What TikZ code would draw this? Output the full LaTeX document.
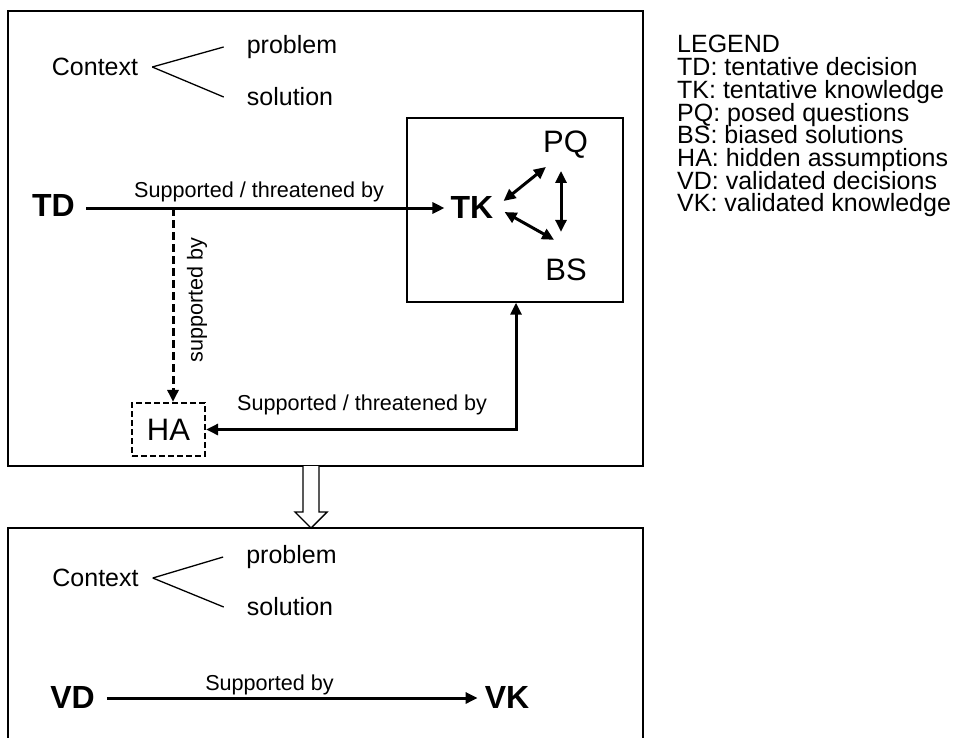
\documentclass[tikz,border=0pt]{standalone}
\usepackage{fontspec}
\setmainfont{Liberation Sans}
\usetikzlibrary{arrows.meta}
\begin{document}
\begin{tikzpicture}[x=1pt,y=-1pt,
  tip/.tip={Triangle[length=12pt,width=11pt]},
  frame/.style={draw, line width=1.4pt},
  thinline/.style={line width=1.3pt},
  conn/.style={line width=3pt, -tip},
  twoway/.style={line width=3pt, tip-tip},
  dashconn/.style={line width=3pt, dash pattern=on 8pt off 4pt, -tip},
  big/.style={font=\fontsize{32}{36}\selectfont\bfseries, inner sep=0pt},
  mid/.style={font=\fontsize{31}{36}\selectfont, inner sep=0pt},
  ctxt/.style={font=\fontsize{25}{30}\selectfont, inner sep=0pt},
  lbl/.style={font=\fontsize{21.6}{26}\selectfont, inner sep=0pt},
  leg/.style={font=\fontsize{25}{28}\selectfont, inner sep=0pt, anchor=base west}]

\useasboundingbox (0,0) rectangle (955,737);
\fill[white] (0,0) rectangle (955,737);
\clip (0,0) rectangle (955,737);

% ---------- upper stage: tentative ----------
\node[frame, minimum width=635pt, minimum height=455pt, inner sep=0pt] (stage1) at (325.5,238.5) {};

\node[ctxt, inner xsep=14pt] (ctx1) at (95,67) {Context};
\node[ctxt, inner xsep=23pt] (prob1) at (292,47) {problem};
\node[ctxt, inner xsep=23pt] (sol1) at (290,97) {solution};
\draw[thinline] (ctx1.east) -- (prob1.west);
\draw[thinline] (ctx1.east) -- (sol1.west);

\node[big] (TD) at (53.5,205) {TD};
\node[big] (TK) at (472,207) {TK};
\node[frame, minimum width=216pt, minimum height=184pt, inner sep=0pt] (tkbox) at (515,210) {};
\node[mid] (PQ) at (565.5,145) {PQ};
\node[mid] (BS) at (566,270) {BS};
\node[mid, draw, line width=2.3pt, dash pattern=on 6pt off 3pt,
      minimum width=73pt, minimum height=53pt] (HA) at (168.5,429.5) {HA};

\draw[conn] ([shift={(11,3)}]TD.east) -- ([shift={(-6,1)}]TK.west);
\node[lbl] (lbl1) at (259,192) {Supported / threatened by};

\coordinate (split) at (173,208);
\draw[dashconn] (split) -- (split |- HA.north);
\node[lbl, rotate=90] (lbl2) at (197,300) {supported by};

\draw[twoway] ([shift={(10,-6)}]TK.east) -- ([shift={(3,8)}]PQ.south west);
\draw[twoway] ([shift={(11,5)}]TK.east) -- ([shift={(9,-19)}]BS.north west);
\draw[twoway] ([shift={(-4.5,12)}]PQ.south) -- ([shift={(-5,-27)}]BS.north);

\draw[twoway] (HA.east) -| ([xshift=1pt]tkbox.south);
\node[lbl] (lbl3) at (362,405) {Supported / threatened by};

% ---------- transition arrow ----------
\draw[frame, fill=white] (303,466) -- (303,512) -- (295,512) -- (311,528)
  -- (327,512) -- (319,512) -- (319,466);

% ---------- lower stage: validated ----------
\draw[frame] (8,745) -- (8,528) -- (643,528) -- (643,745);

\node[ctxt, inner xsep=14pt] (ctx2) at (95.5,578) {Context};
\node[ctxt, inner xsep=23pt] (prob2) at (291.5,557) {problem};
\node[ctxt, inner xsep=23pt] (sol2) at (290,607) {solution};
\draw[thinline] (ctx2.east) -- (prob2.west);
\draw[thinline] (ctx2.east) -- (sol2.west);

\node[big] (VD) at (72.5,697) {VD};
\node[big] (VK) at (507,697) {VK};
\draw[conn] ([shift={(12,1)}]VD.east) -- ([shift={(-7,1)}]VK.west);
\node[lbl] (lbl4) at (269.5,685) {Supported by};

% ---------- legend ----------
\foreach \t [count=\i from 0] in {LEGEND, TD: tentative decision,
    TK: tentative knowledge, PQ: posed questions, BS: biased solutions,
    HA: hidden assumptions, VD: validated decisions, VK: validated knowledge}
  \node[leg] (leg-\i) at (677, 52.9+22.7*\i) {\t};
\end{tikzpicture}
\end{document}
